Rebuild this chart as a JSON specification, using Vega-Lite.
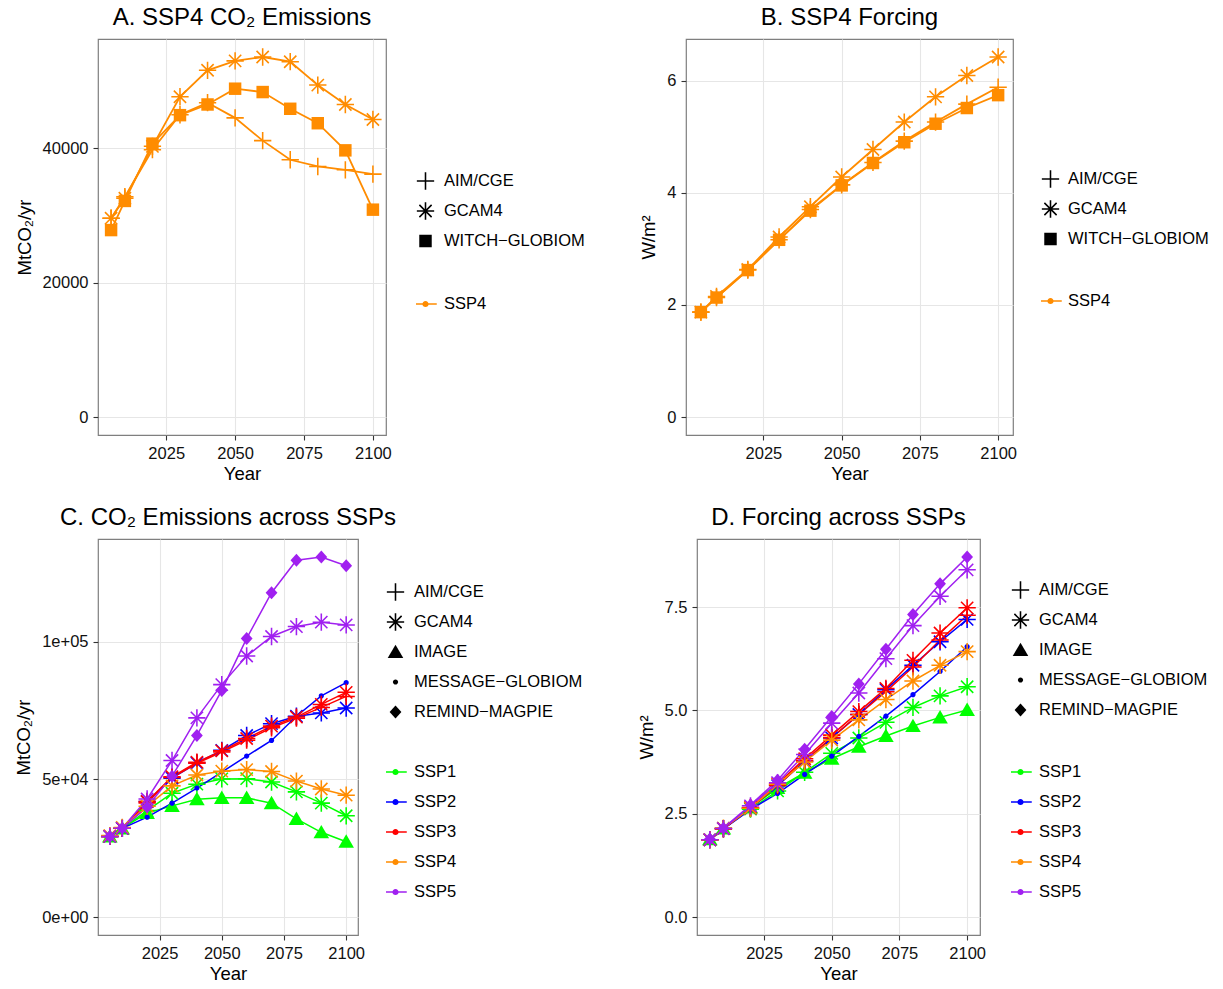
{
  "$schema": "https://vega.github.io/schema/vega-lite/v6.json",
  "padding": {"left": 14, "top": 5, "right": 0, "bottom": 0},
  "background": "white",
  "datasets": {
    "d": [
      {"SSP": "SSP1", "Model": "IMAGE", "Year": 2005, "E": 29300, "F": 1.88},
      {"SSP": "SSP1", "Model": "IMAGE", "Year": 2010, "E": 32240, "F": 2.14},
      {"SSP": "SSP1", "Model": "IMAGE", "Year": 2020, "E": 37850, "F": 2.65},
      {"SSP": "SSP1", "Model": "IMAGE", "Year": 2030, "E": 40400, "F": 3.12},
      {"SSP": "SSP1", "Model": "IMAGE", "Year": 2040, "E": 42840, "F": 3.49},
      {"SSP": "SSP1", "Model": "IMAGE", "Year": 2050, "E": 43320, "F": 3.83},
      {"SSP": "SSP1", "Model": "IMAGE", "Year": 2060, "E": 43320, "F": 4.12},
      {"SSP": "SSP1", "Model": "IMAGE", "Year": 2070, "E": 41380, "F": 4.38},
      {"SSP": "SSP1", "Model": "IMAGE", "Year": 2080, "E": 35660, "F": 4.62},
      {"SSP": "SSP1", "Model": "IMAGE", "Year": 2090, "E": 30800, "F": 4.83},
      {"SSP": "SSP1", "Model": "IMAGE", "Year": 2100, "E": 27370, "F": 5.01},
      {"SSP": "SSP1", "Model": "GCAM4", "Year": 2005, "E": 29300, "F": 1.87},
      {"SSP": "SSP1", "Model": "GCAM4", "Year": 2010, "E": 32240, "F": 2.14},
      {"SSP": "SSP1", "Model": "GCAM4", "Year": 2020, "E": 38700, "F": 2.61},
      {"SSP": "SSP1", "Model": "GCAM4", "Year": 2030, "E": 45000, "F": 3.05},
      {"SSP": "SSP1", "Model": "GCAM4", "Year": 2040, "E": 48300, "F": 3.50},
      {"SSP": "SSP1", "Model": "GCAM4", "Year": 2050, "E": 50200, "F": 3.96},
      {"SSP": "SSP1", "Model": "GCAM4", "Year": 2060, "E": 50300, "F": 4.33},
      {"SSP": "SSP1", "Model": "GCAM4", "Year": 2070, "E": 49100, "F": 4.71},
      {"SSP": "SSP1", "Model": "GCAM4", "Year": 2080, "E": 45500, "F": 5.07},
      {"SSP": "SSP1", "Model": "GCAM4", "Year": 2090, "E": 41400, "F": 5.35},
      {"SSP": "SSP1", "Model": "GCAM4", "Year": 2100, "E": 36800, "F": 5.57},
      {"SSP": "SSP2", "Model": "MESSAGE-GLOBIOM", "Year": 2005, "E": 29300, "F": 1.87},
      {"SSP": "SSP2", "Model": "MESSAGE-GLOBIOM", "Year": 2010, "E": 32240, "F": 2.13},
      {"SSP": "SSP2", "Model": "MESSAGE-GLOBIOM", "Year": 2020, "E": 36300, "F": 2.60},
      {"SSP": "SSP2", "Model": "MESSAGE-GLOBIOM", "Year": 2030, "E": 41400, "F": 2.99},
      {"SSP": "SSP2", "Model": "MESSAGE-GLOBIOM", "Year": 2040, "E": 46900, "F": 3.45},
      {"SSP": "SSP2", "Model": "MESSAGE-GLOBIOM", "Year": 2050, "E": 52700, "F": 3.89},
      {"SSP": "SSP2", "Model": "MESSAGE-GLOBIOM", "Year": 2060, "E": 58500, "F": 4.37},
      {"SSP": "SSP2", "Model": "MESSAGE-GLOBIOM", "Year": 2070, "E": 64200, "F": 4.86},
      {"SSP": "SSP2", "Model": "MESSAGE-GLOBIOM", "Year": 2080, "E": 73000, "F": 5.38},
      {"SSP": "SSP2", "Model": "MESSAGE-GLOBIOM", "Year": 2090, "E": 80400, "F": 5.94},
      {"SSP": "SSP2", "Model": "MESSAGE-GLOBIOM", "Year": 2100, "E": 85200, "F": 6.54},
      {"SSP": "SSP2", "Model": "GCAM4", "Year": 2005, "E": 29300, "F": 1.87},
      {"SSP": "SSP2", "Model": "GCAM4", "Year": 2010, "E": 32240, "F": 2.14},
      {"SSP": "SSP2", "Model": "GCAM4", "Year": 2020, "E": 42000, "F": 2.63},
      {"SSP": "SSP2", "Model": "GCAM4", "Year": 2030, "E": 50500, "F": 3.18},
      {"SSP": "SSP2", "Model": "GCAM4", "Year": 2040, "E": 56000, "F": 3.77},
      {"SSP": "SSP2", "Model": "GCAM4", "Year": 2050, "E": 60600, "F": 4.33},
      {"SSP": "SSP2", "Model": "GCAM4", "Year": 2060, "E": 66000, "F": 4.90},
      {"SSP": "SSP2", "Model": "GCAM4", "Year": 2070, "E": 70300, "F": 5.50},
      {"SSP": "SSP2", "Model": "GCAM4", "Year": 2080, "E": 73000, "F": 6.09},
      {"SSP": "SSP2", "Model": "GCAM4", "Year": 2090, "E": 74200, "F": 6.66},
      {"SSP": "SSP2", "Model": "GCAM4", "Year": 2100, "E": 76000, "F": 7.20},
      {"SSP": "SSP3", "Model": "AIM/CGE", "Year": 2005, "E": 29300, "F": 1.87},
      {"SSP": "SSP3", "Model": "AIM/CGE", "Year": 2010, "E": 32240, "F": 2.13},
      {"SSP": "SSP3", "Model": "AIM/CGE", "Year": 2020, "E": 41500, "F": 2.64},
      {"SSP": "SSP3", "Model": "AIM/CGE", "Year": 2030, "E": 50700, "F": 3.18},
      {"SSP": "SSP3", "Model": "AIM/CGE", "Year": 2040, "E": 55900, "F": 3.78},
      {"SSP": "SSP3", "Model": "AIM/CGE", "Year": 2050, "E": 60000, "F": 4.34},
      {"SSP": "SSP3", "Model": "AIM/CGE", "Year": 2060, "E": 64300, "F": 4.90},
      {"SSP": "SSP3", "Model": "AIM/CGE", "Year": 2070, "E": 68800, "F": 5.45},
      {"SSP": "SSP3", "Model": "AIM/CGE", "Year": 2080, "E": 72300, "F": 6.05},
      {"SSP": "SSP3", "Model": "AIM/CGE", "Year": 2090, "E": 76200, "F": 6.70},
      {"SSP": "SSP3", "Model": "AIM/CGE", "Year": 2100, "E": 80200, "F": 7.30},
      {"SSP": "SSP3", "Model": "GCAM4", "Year": 2005, "E": 29300, "F": 1.87},
      {"SSP": "SSP3", "Model": "GCAM4", "Year": 2010, "E": 32240, "F": 2.14},
      {"SSP": "SSP3", "Model": "GCAM4", "Year": 2020, "E": 42000, "F": 2.65},
      {"SSP": "SSP3", "Model": "GCAM4", "Year": 2030, "E": 51000, "F": 3.22},
      {"SSP": "SSP3", "Model": "GCAM4", "Year": 2040, "E": 56300, "F": 3.83},
      {"SSP": "SSP3", "Model": "GCAM4", "Year": 2050, "E": 60400, "F": 4.40},
      {"SSP": "SSP3", "Model": "GCAM4", "Year": 2060, "E": 64900, "F": 4.97},
      {"SSP": "SSP3", "Model": "GCAM4", "Year": 2070, "E": 69400, "F": 5.53},
      {"SSP": "SSP3", "Model": "GCAM4", "Year": 2080, "E": 72700, "F": 6.21},
      {"SSP": "SSP3", "Model": "GCAM4", "Year": 2090, "E": 77300, "F": 6.87},
      {"SSP": "SSP3", "Model": "GCAM4", "Year": 2100, "E": 81700, "F": 7.48},
      {"SSP": "SSP4", "Model": "AIM/CGE", "Year": 2005, "E": 29600, "F": 1.87},
      {"SSP": "SSP4", "Model": "AIM/CGE", "Year": 2010, "E": 32800, "F": 2.13},
      {"SSP": "SSP4", "Model": "AIM/CGE", "Year": 2020, "E": 39800, "F": 2.62},
      {"SSP": "SSP4", "Model": "AIM/CGE", "Year": 2030, "E": 45000, "F": 3.16},
      {"SSP": "SSP4", "Model": "AIM/CGE", "Year": 2040, "E": 46800, "F": 3.70},
      {"SSP": "SSP4", "Model": "AIM/CGE", "Year": 2050, "E": 44540, "F": 4.14},
      {"SSP": "SSP4", "Model": "AIM/CGE", "Year": 2060, "E": 41150, "F": 4.54},
      {"SSP": "SSP4", "Model": "AIM/CGE", "Year": 2070, "E": 38300, "F": 4.92},
      {"SSP": "SSP4", "Model": "AIM/CGE", "Year": 2080, "E": 37300, "F": 5.26},
      {"SSP": "SSP4", "Model": "AIM/CGE", "Year": 2090, "E": 36800, "F": 5.58},
      {"SSP": "SSP4", "Model": "AIM/CGE", "Year": 2100, "E": 36160, "F": 5.88},
      {"SSP": "SSP4", "Model": "WITCH-GLOBIOM", "Year": 2005, "E": 27830, "F": 1.87},
      {"SSP": "SSP4", "Model": "WITCH-GLOBIOM", "Year": 2010, "E": 32170, "F": 2.13},
      {"SSP": "SSP4", "Model": "WITCH-GLOBIOM", "Year": 2020, "E": 40700, "F": 2.62},
      {"SSP": "SSP4", "Model": "WITCH-GLOBIOM", "Year": 2030, "E": 44940, "F": 3.16},
      {"SSP": "SSP4", "Model": "WITCH-GLOBIOM", "Year": 2040, "E": 46530, "F": 3.68},
      {"SSP": "SSP4", "Model": "WITCH-GLOBIOM", "Year": 2050, "E": 48880, "F": 4.13},
      {"SSP": "SSP4", "Model": "WITCH-GLOBIOM", "Year": 2060, "E": 48380, "F": 4.53},
      {"SSP": "SSP4", "Model": "WITCH-GLOBIOM", "Year": 2070, "E": 45890, "F": 4.90},
      {"SSP": "SSP4", "Model": "WITCH-GLOBIOM", "Year": 2080, "E": 43740, "F": 5.23},
      {"SSP": "SSP4", "Model": "WITCH-GLOBIOM", "Year": 2090, "E": 39700, "F": 5.51},
      {"SSP": "SSP4", "Model": "WITCH-GLOBIOM", "Year": 2100, "E": 30870, "F": 5.74},
      {"SSP": "SSP4", "Model": "GCAM4", "Year": 2005, "E": 29600, "F": 1.87},
      {"SSP": "SSP4", "Model": "GCAM4", "Year": 2010, "E": 32570, "F": 2.15},
      {"SSP": "SSP4", "Model": "GCAM4", "Year": 2020, "E": 40300, "F": 2.63},
      {"SSP": "SSP4", "Model": "GCAM4", "Year": 2030, "E": 47680, "F": 3.21},
      {"SSP": "SSP4", "Model": "GCAM4", "Year": 2040, "E": 51620, "F": 3.75},
      {"SSP": "SSP4", "Model": "GCAM4", "Year": 2050, "E": 53020, "F": 4.28},
      {"SSP": "SSP4", "Model": "GCAM4", "Year": 2060, "E": 53600, "F": 4.77},
      {"SSP": "SSP4", "Model": "GCAM4", "Year": 2070, "E": 52900, "F": 5.26},
      {"SSP": "SSP4", "Model": "GCAM4", "Year": 2080, "E": 49420, "F": 5.71},
      {"SSP": "SSP4", "Model": "GCAM4", "Year": 2090, "E": 46530, "F": 6.09},
      {"SSP": "SSP4", "Model": "GCAM4", "Year": 2100, "E": 44290, "F": 6.42},
      {"SSP": "SSP5", "Model": "GCAM4", "Year": 2005, "E": 29300, "F": 1.87},
      {"SSP": "SSP5", "Model": "GCAM4", "Year": 2010, "E": 32240, "F": 2.14},
      {"SSP": "SSP5", "Model": "GCAM4", "Year": 2020, "E": 42900, "F": 2.69},
      {"SSP": "SSP5", "Model": "GCAM4", "Year": 2030, "E": 56900, "F": 3.25},
      {"SSP": "SSP5", "Model": "GCAM4", "Year": 2040, "E": 72400, "F": 3.93},
      {"SSP": "SSP5", "Model": "GCAM4", "Year": 2050, "E": 84500, "F": 4.69},
      {"SSP": "SSP5", "Model": "GCAM4", "Year": 2060, "E": 94900, "F": 5.42},
      {"SSP": "SSP5", "Model": "GCAM4", "Year": 2070, "E": 102000, "F": 6.25},
      {"SSP": "SSP5", "Model": "GCAM4", "Year": 2080, "E": 105600, "F": 7.05},
      {"SSP": "SSP5", "Model": "GCAM4", "Year": 2090, "E": 107200, "F": 7.76},
      {"SSP": "SSP5", "Model": "GCAM4", "Year": 2100, "E": 106200, "F": 8.40},
      {"SSP": "SSP5", "Model": "REMIND-MAGPIE", "Year": 2005, "E": 29300, "F": 1.89},
      {"SSP": "SSP5", "Model": "REMIND-MAGPIE", "Year": 2010, "E": 32240, "F": 2.15},
      {"SSP": "SSP5", "Model": "REMIND-MAGPIE", "Year": 2020, "E": 40000, "F": 2.71},
      {"SSP": "SSP5", "Model": "REMIND-MAGPIE", "Year": 2030, "E": 51200, "F": 3.31},
      {"SSP": "SSP5", "Model": "REMIND-MAGPIE", "Year": 2040, "E": 66000, "F": 4.06},
      {"SSP": "SSP5", "Model": "REMIND-MAGPIE", "Year": 2050, "E": 82400, "F": 4.85},
      {"SSP": "SSP5", "Model": "REMIND-MAGPIE", "Year": 2060, "E": 101300, "F": 5.64},
      {"SSP": "SSP5", "Model": "REMIND-MAGPIE", "Year": 2070, "E": 117900, "F": 6.48},
      {"SSP": "SSP5", "Model": "REMIND-MAGPIE", "Year": 2080, "E": 129700, "F": 7.32},
      {"SSP": "SSP5", "Model": "REMIND-MAGPIE", "Year": 2090, "E": 130900, "F": 8.06},
      {"SSP": "SSP5", "Model": "REMIND-MAGPIE", "Year": 2100, "E": 127700, "F": 8.71}
    ]
  },
  "resolve": {"scale": {"color": "independent", "shape": "independent", "stroke": "independent"}, "legend": {"color": "independent", "shape": "independent", "stroke": "independent"}},
  "vconcat": [
    {
      "spacing": 53,
      "align": "none",
      "resolve": {"scale": {"color": "independent", "shape": "independent", "stroke": "independent"}, "legend": {"color": "independent", "shape": "independent", "stroke": "independent"}},
      "hconcat": [
        {
          "width": 288, "height": 396,
          "title": {"text": "A. SSP4 CO₂ Emissions", "offset": 9},
          "data": {"name": "d"},
          "transform": [{"filter": "datum.SSP == 'SSP4'"}],
          "layer": [
            {
              "mark": {"type": "line", "strokeWidth": 1.8},
              "encoding": {
                "x": {"field": "Year", "type": "quantitative", "scale": {"domain": [2000.25, 2104.75], "nice": false, "zero": false}, "axis": {"title": "Year", "values": [2025, 2050, 2075, 2100], "format": "d"}},
                "y": {"field": "E", "type": "quantitative", "scale": {"domain": [-2680, 56280], "nice": false, "zero": false}, "axis": {"title": "MtCO₂/yr", "values": [0, 20000, 40000], "format": "d"}},
                "stroke": {"field": "SSP", "type": "nominal", "scale": {"range": ["#ff8c00"]}, "legend": null},
                "detail": {"field": "Model"}
              }
            },
            {
              "mark": {"type": "point", "filled": true, "size": 300, "opacity": 1},
              "encoding": {
                "x": {"field": "Year", "type": "quantitative", "axis": {"orient": "bottom", "values": [2012.5, 2037.5, 2062.5, 2087.5], "labels": false, "ticks": false, "domain": false, "title": null, "gridColor": "#f4f4f4"}},
                "y": {"field": "E", "type": "quantitative", "axis": {"orient": "left", "values": [10000, 30000, 50000], "labels": false, "ticks": false, "domain": false, "title": null, "gridColor": "#f4f4f4"}},
                "color": {"field": "SSP", "type": "nominal", "scale": {"domain": ["SSP4"], "range": ["#ff8c00"]},
                  "legend": {"title": null, "orient": "none", "legendX": 318, "legendY": 250, "symbolType": "M-1.3,-0.09H1.3V0.09H-1.3Z M0.36,0A0.36,0.36 0 1,1 -0.36,0A0.36,0.36 0 1,1 0.36,0Z", "symbolSize": 300, "labelOffset": 9, "rowPadding": 0, "clipHeight": 30}},
                "shape": {"field": "Model", "type": "nominal",
                  "scale": {"domain": ["AIM/CGE", "GCAM4", "WITCH-GLOBIOM"], "range": [
                    "M-1,-0.09H1V0.09H-1Z M-0.09,-1H0.09V1H-0.09Z",
                    "M-1,-0.09H1V0.09H-1Z M-0.09,-1H0.09V1H-0.09Z M-0.643,-0.771L0.771,0.643L0.643,0.771L-0.771,-0.643Z M0.771,-0.643L-0.643,0.771L-0.771,0.643L0.643,-0.771Z",
                    "M-0.72,-0.72H0.72V0.72H-0.72Z"]},
                  "legend": {"title": null, "orient": "none", "legendX": 318, "legendY": 127, "symbolSize": 300, "labelOffset": 9, "rowPadding": 0, "clipHeight": 30, "labelExpr": "replace(datum.label, '-', '−')"}}
              }
            }
          ],
          "resolve": {"axis": {"x": "independent", "y": "independent"}}
        },
        {
          "width": 327, "height": 396,
          "title": {"text": "B. SSP4 Forcing", "offset": 9},
          "data": {"name": "d"},
          "transform": [{"filter": "datum.SSP == 'SSP4'"}],
          "layer": [
            {
              "mark": {"type": "line", "strokeWidth": 1.8},
              "encoding": {
                "x": {"field": "Year", "type": "quantitative", "scale": {"domain": [2000.25, 2104.75], "nice": false, "zero": false}, "axis": {"title": "Year", "values": [2025, 2050, 2075, 2100], "format": "d"}},
                "y": {"field": "F", "type": "quantitative", "scale": {"domain": [-0.321, 6.741], "nice": false, "zero": false}, "axis": {"title": "W/m²", "values": [0, 2, 4, 6], "format": "d"}},
                "stroke": {"field": "SSP", "type": "nominal", "scale": {"range": ["#ff8c00"]}, "legend": null},
                "detail": {"field": "Model"}
              }
            },
            {
              "mark": {"type": "point", "filled": true, "size": 300, "opacity": 1},
              "encoding": {
                "x": {"field": "Year", "type": "quantitative", "axis": {"orient": "bottom", "values": [2012.5, 2037.5, 2062.5, 2087.5], "labels": false, "ticks": false, "domain": false, "title": null, "gridColor": "#f4f4f4"}},
                "y": {"field": "F", "type": "quantitative", "axis": {"orient": "left", "values": [1, 3, 5], "labels": false, "ticks": false, "domain": false, "title": null, "gridColor": "#f4f4f4"}},
                "color": {"field": "SSP", "type": "nominal", "scale": {"domain": ["SSP4"], "range": ["#ff8c00"]},
                  "legend": {"title": null, "orient": "none", "legendX": 355, "legendY": 247, "symbolType": "M-1.3,-0.09H1.3V0.09H-1.3Z M0.36,0A0.36,0.36 0 1,1 -0.36,0A0.36,0.36 0 1,1 0.36,0Z", "symbolSize": 300, "labelOffset": 8, "rowPadding": 0, "clipHeight": 30}},
                "shape": {"field": "Model", "type": "nominal",
                  "scale": {"domain": ["AIM/CGE", "GCAM4", "WITCH-GLOBIOM"], "range": [
                    "M-1,-0.09H1V0.09H-1Z M-0.09,-1H0.09V1H-0.09Z",
                    "M-1,-0.09H1V0.09H-1Z M-0.09,-1H0.09V1H-0.09Z M-0.643,-0.771L0.771,0.643L0.643,0.771L-0.771,-0.643Z M0.771,-0.643L-0.643,0.771L-0.771,0.643L0.643,-0.771Z",
                    "M-0.72,-0.72H0.72V0.72H-0.72Z"]},
                  "legend": {"title": null, "orient": "none", "legendX": 355, "legendY": 125, "symbolSize": 300, "labelOffset": 8, "rowPadding": 0, "clipHeight": 30, "labelExpr": "replace(datum.label, '-', '−')"}}
              }
            }
          ],
          "resolve": {"axis": {"x": "independent", "y": "independent"}}
        }
      ]
    },
    {
      "spacing": 52,
      "align": "none",
      "resolve": {"scale": {"color": "independent", "shape": "independent", "stroke": "independent"}, "legend": {"color": "independent", "shape": "independent", "stroke": "independent"}},
      "hconcat": [
        {
          "width": 260, "height": 396,
          "title": {"text": "C. CO₂ Emissions across SSPs", "offset": 9},
          "data": {"name": "d"},
          "transform": [{"filter": "datum.SSP != 'SSP4' || datum.Model == 'GCAM4'"}],
          "layer": [
            {
              "mark": {"type": "line", "strokeWidth": 1.5},
              "encoding": {
                "x": {"field": "Year", "type": "quantitative", "scale": {"domain": [2000.25, 2104.75], "nice": false, "zero": false}, "axis": {"title": "Year", "values": [2025, 2050, 2075, 2100], "format": "d"}},
                "y": {"field": "E", "type": "quantitative", "scale": {"domain": [-6545, 137445], "nice": false, "zero": false}, "axis": {"title": "MtCO₂/yr", "values": [0, 50000, 100000], "labelExpr": "datum.value == 0 ? '0e+00' : datum.value == 50000 ? '5e+04' : '1e+05'"}},
                "stroke": {"field": "SSP", "type": "nominal", "scale": {"range": ["#00ff00", "#0000ff", "#ff0000", "#ff8c00", "#a020f0"]}, "legend": null},
                "detail": {"field": "Model"}
              }
            },
            {
              "mark": {"type": "point", "filled": true, "size": 300, "opacity": 1},
              "encoding": {
                "x": {"field": "Year", "type": "quantitative", "axis": {"orient": "bottom", "values": [2012.5, 2037.5, 2062.5, 2087.5], "labels": false, "ticks": false, "domain": false, "title": null, "gridColor": "#f4f4f4"}},
                "y": {"field": "E", "type": "quantitative", "axis": {"orient": "left", "values": [25000, 75000, 125000], "labels": false, "ticks": false, "domain": false, "title": null, "gridColor": "#f4f4f4"}},
                "color": {"field": "SSP", "type": "nominal", "scale": {"domain": ["SSP1", "SSP2", "SSP3", "SSP4", "SSP5"], "range": ["#00ff00", "#0000ff", "#ff0000", "#ff8c00", "#a020f0"]},
                  "legend": {"title": null, "orient": "none", "legendX": 288, "legendY": 218, "symbolType": "M-1.3,-0.09H1.3V0.09H-1.3Z M0.36,0A0.36,0.36 0 1,1 -0.36,0A0.36,0.36 0 1,1 0.36,0Z", "symbolSize": 300, "labelOffset": 9, "rowPadding": 0, "clipHeight": 30}},
                "shape": {"field": "Model", "type": "nominal",
                  "scale": {"domain": ["AIM/CGE", "GCAM4", "IMAGE", "MESSAGE-GLOBIOM", "REMIND-MAGPIE"], "range": [
                    "M-1,-0.09H1V0.09H-1Z M-0.09,-1H0.09V1H-0.09Z",
                    "M-1,-0.09H1V0.09H-1Z M-0.09,-1H0.09V1H-0.09Z M-0.643,-0.771L0.771,0.643L0.643,0.771L-0.771,-0.643Z M0.771,-0.643L-0.643,0.771L-0.771,0.643L0.643,-0.771Z",
                    "M0,-0.85L0.9,0.7H-0.9Z",
                    "M0.3,0A0.3,0.3 0 1,1 -0.3,0A0.3,0.3 0 1,1 0.3,0Z",
                    "M0,-0.75L0.68,0L0,0.75L-0.68,0Z"]},
                  "legend": {"title": null, "orient": "none", "legendX": 288, "legendY": 38, "symbolSize": 300, "labelOffset": 9, "rowPadding": 0, "clipHeight": 30, "labelExpr": "replace(datum.label, '-', '−')"}}
              }
            }
          ],
          "resolve": {"axis": {"x": "independent", "y": "independent"}}
        },
        {
          "width": 283, "height": 396,
          "title": {"text": "D. Forcing across SSPs", "offset": 9},
          "data": {"name": "d"},
          "transform": [{"filter": "datum.SSP != 'SSP4' || datum.Model == 'GCAM4'"}],
          "layer": [
            {
              "mark": {"type": "line", "strokeWidth": 1.5},
              "encoding": {
                "x": {"field": "Year", "type": "quantitative", "scale": {"domain": [2000.25, 2104.75], "nice": false, "zero": false}, "axis": {"title": "Year", "values": [2025, 2050, 2075, 2100], "format": "d"}},
                "y": {"field": "F", "type": "quantitative", "scale": {"domain": [-0.4355, 9.1455], "nice": false, "zero": false}, "axis": {"title": "W/m²", "values": [0, 2.5, 5, 7.5], "format": ".1f"}},
                "stroke": {"field": "SSP", "type": "nominal", "scale": {"range": ["#00ff00", "#0000ff", "#ff0000", "#ff8c00", "#a020f0"]}, "legend": null},
                "detail": {"field": "Model"}
              }
            },
            {
              "mark": {"type": "point", "filled": true, "size": 300, "opacity": 1},
              "encoding": {
                "x": {"field": "Year", "type": "quantitative", "axis": {"orient": "bottom", "values": [2012.5, 2037.5, 2062.5, 2087.5], "labels": false, "ticks": false, "domain": false, "title": null, "gridColor": "#f4f4f4"}},
                "y": {"field": "F", "type": "quantitative", "axis": {"orient": "left", "values": [1.25, 3.75, 6.25, 8.75], "labels": false, "ticks": false, "domain": false, "title": null, "gridColor": "#f4f4f4"}},
                "color": {"field": "SSP", "type": "nominal", "scale": {"domain": ["SSP1", "SSP2", "SSP3", "SSP4", "SSP5"], "range": ["#00ff00", "#0000ff", "#ff0000", "#ff8c00", "#a020f0"]},
                  "legend": {"title": null, "orient": "none", "legendX": 314, "legendY": 218, "symbolType": "M-1.3,-0.09H1.3V0.09H-1.3Z M0.36,0A0.36,0.36 0 1,1 -0.36,0A0.36,0.36 0 1,1 0.36,0Z", "symbolSize": 300, "labelOffset": 9, "rowPadding": 0, "clipHeight": 30}},
                "shape": {"field": "Model", "type": "nominal",
                  "scale": {"domain": ["AIM/CGE", "GCAM4", "IMAGE", "MESSAGE-GLOBIOM", "REMIND-MAGPIE"], "range": [
                    "M-1,-0.09H1V0.09H-1Z M-0.09,-1H0.09V1H-0.09Z",
                    "M-1,-0.09H1V0.09H-1Z M-0.09,-1H0.09V1H-0.09Z M-0.643,-0.771L0.771,0.643L0.643,0.771L-0.771,-0.643Z M0.771,-0.643L-0.643,0.771L-0.771,0.643L0.643,-0.771Z",
                    "M0,-0.85L0.9,0.7H-0.9Z",
                    "M0.3,0A0.3,0.3 0 1,1 -0.3,0A0.3,0.3 0 1,1 0.3,0Z",
                    "M0,-0.75L0.68,0L0,0.75L-0.68,0Z"]},
                  "legend": {"title": null, "orient": "none", "legendX": 314, "legendY": 36, "symbolSize": 300, "labelOffset": 9, "rowPadding": 0, "clipHeight": 30, "labelExpr": "replace(datum.label, '-', '−')"}}
              }
            }
          ],
          "resolve": {"axis": {"x": "independent", "y": "independent"}}
        }
      ]
    }
  ],
  "spacing": 21,
  "config": {
    "font": "Liberation Sans",
    "view": {"stroke": "#7f7f7f", "strokeWidth": 1.2},
    "axis": {
      "labelFont": "Liberation Sans", "labelFontSize": 16.5, "labelColor": "#111",
      "titleFont": "Liberation Sans", "titleFontSize": 18.5, "titleFontWeight": "normal", "titleColor": "#000",
      "domain": false, "tickColor": "#333", "tickSize": 5, "tickWidth": 1.1, "labelPadding": 5,
      "gridColor": "#e6e6e6", "gridWidth": 1.1, "labelFlush": false, "labelOverlap": false
    },
    "axisX": {"titlePadding": 3},
    "axisY": {"titlePadding": 8},
    "legend": {"labelFont": "Liberation Sans", "labelFontSize": 16.5, "labelColor": "#000", "labelLimit": 300},
    "title": {"font": "Liberation Sans", "fontSize": 24, "fontWeight": "normal", "color": "#000", "anchor": "middle"}
  }
}
